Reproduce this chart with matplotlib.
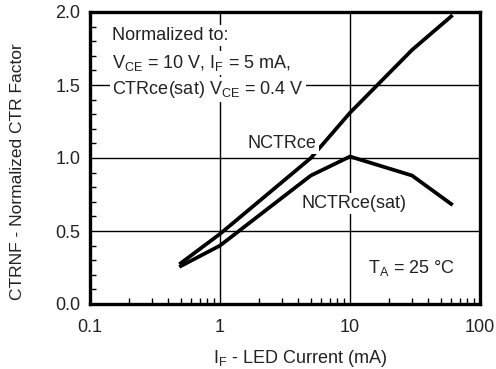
import matplotlib
matplotlib.use("Agg")
import matplotlib.pyplot as plt
import numpy as np

# Werte
led_current = [0.5, 1, 5, 10, 30, 60]
nctr_ce = [0.28, 0.48, 1.00, 1.31, 1.74, 1.97]
nctr_ce_sat = [0.26, 0.40, 0.88, 1.01, 0.88, 0.685]

x_ticks = [0.1, 1, 10, 100]
x_tick_labels = ["0.1", "1", "10", "100"]
y_ticks = [0.0, 0.5, 1.0, 1.5, 2.0]

plt.rcParams["font.family"] = ["Liberation Sans", "DejaVu Sans"]
plt.rcParams["font.size"] = 13

fig = plt.figure(figsize=(4.96, 3.69), dpi=100)
ax = fig.add_axes([90 / 496, 1 - 304 / 369, 390 / 496, 292 / 369])

ax.plot(led_current, nctr_ce, color="black", linewidth=2.7, solid_joinstyle="miter", zorder=3)
ax.plot(led_current, nctr_ce_sat, color="black", linewidth=2.7, solid_joinstyle="miter", zorder=3)

ax.set_xscale("log")
ax.set_xlim(0.1, 100)
ax.set_ylim(0, 2.0)
ax.set_xticks(x_ticks)
ax.set_xticklabels(x_tick_labels)
ax.set_yticks(y_ticks)
ax.set_yticklabels([f"{v:.1f}" for v in y_ticks])
ax.set_yticks(np.arange(0, 2.0, 0.1), minor=True)

ax.grid(True, which="major", color="black", linewidth=1.0, zorder=1)
ax.tick_params(which="major", direction="in", length=0, pad=7, colors="#222222", labelcolor="#222222")
ax.tick_params(axis="x", which="major", pad=11)
ax.tick_params(which="minor", direction="in", length=4, width=1.0)
ax.tick_params(axis="x", which="minor", labelbottom=False)
for s in ax.spines.values():
    s.set_linewidth(2.4)

ax.set_xlabel("I$_\\mathregular{F}$ - LED Current (mA)", color="#222222")
ax.set_ylabel("CTRNF - Normalized CTR Factor", color="#222222", fontsize=12.5)
ax.xaxis.set_label_coords(0.54, -0.15)
ax.yaxis.set_label_coords(-0.187, 0.452)
ax.yaxis.label.set_va("center")

box = dict(facecolor="white", edgecolor="none", pad=1.5)
ax.text(0.1476, 1.84, "Normalized to:", color="#222222", va="center", bbox=box, zorder=4)
ax.text(0.1476, 1.65, "V$_\\mathregular{CE}$ = 10 V, I$_\\mathregular{F}$ = 5 mA,",
        color="#222222", va="center", bbox=box, zorder=4)
ax.text(0.1476, 1.47, "CTRce(sat) V$_\\mathregular{CE}$ = 0.4 V",
        color="#222222", va="center", bbox=box, zorder=4)
ax.text(1.64, 1.10, "NCTRce", color="#222222", va="center", bbox=box, zorder=4)
ax.text(4.27, 0.69, "NCTRce(sat)", color="#222222", va="center", bbox=box, zorder=4)
ax.text(13.8, 0.25, "T$_\\mathregular{A}$ = 25 °C", color="#222222", va="center", bbox=box, zorder=4)

fig.savefig("out.png", dpi=100)
